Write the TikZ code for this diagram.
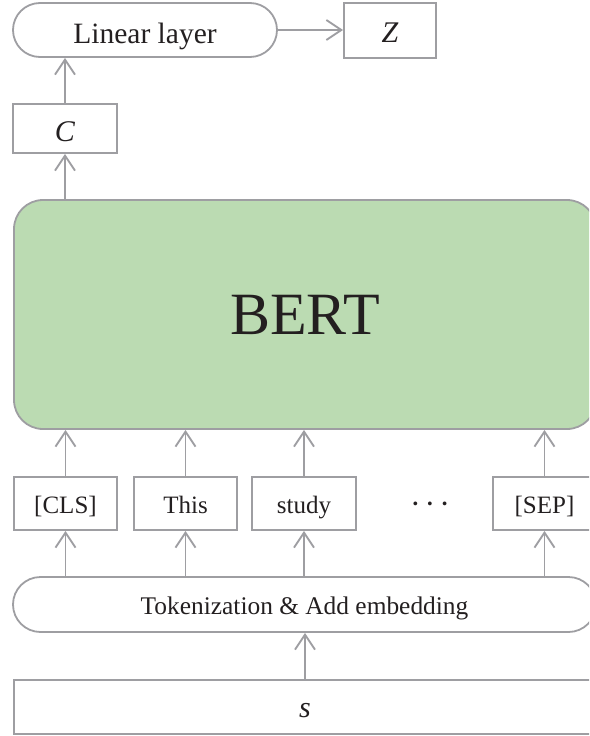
\documentclass[tikz,border=0pt]{standalone}
\usepackage{fontspec}
\setmainfont{Liberation Serif}
\usetikzlibrary{arrows.meta}
\definecolor{edgegray}{RGB}{158,158,162}
\definecolor{bertgreen}{RGB}{187,219,178}
\definecolor{inkdark}{RGB}{35,31,32}
\begin{document}
\begin{tikzpicture}[x=1pt,y=-1pt,
  box/.style={draw=edgegray,line width=1.8pt,inner sep=0pt,text=inkdark,
    text height=20pt,text depth=0pt,font=\fontsize{25}{30}\selectfont},
  sqbox/.style={box,rectangle},
  pill/.style={box,rounded corners=27pt},
  tokbox/.style={sqbox,minimum width=103pt,minimum height=53pt},
  flow/.style={draw=edgegray,line width=1.9pt,
    -{Straight Barb[length=15pt,width=20pt,line width=1.9pt]}},
]
\clip (0,0) rectangle (589,736);

% output head
\node[pill,minimum width=264pt,minimum height=54pt,text height=26pt,
  font=\fontsize{29.5}{34}\selectfont] (lin) at (145,30) {Linear layer};
\node[sqbox,minimum width=92pt,minimum height=55pt,text height=24pt,
  font=\fontsize{30}{34}\selectfont] (z) at (390,30.5) {\textit{Z}};
\node[sqbox,minimum width=104pt,minimum height=49pt,text height=26pt,
  font=\fontsize{30}{34}\selectfont] (c) at (65,128.5) {\textit{C}};

% encoder
\node[box,fill=bertgreen,rounded corners=29pt,minimum width=582pt,
  minimum height=229pt,text height=40pt,
  font=\fontsize{60}{66}\selectfont] (bert) at (305,314.5) {BERT};

% token row
\node[tokbox] (cls) at (65.5,503.5) {[CLS]};
\node[tokbox] (this) at (185.5,503.5) {This};
\node[tokbox,minimum width=104pt] (study) at (304,503.5) {study};
\node[text=inkdark,inner sep=0pt,font=\fontsize{32}{36}\selectfont] (dots) at (430,508)
  {·\hspace{4pt}·\hspace{4pt}·};
\node[tokbox] (sep) at (544.5,503.5) {[SEP]};

% input side
\node[box,rounded corners=27.5pt,minimum width=583pt,minimum height=55pt,
  text height=19pt,font=\fontsize{25.4}{30}\selectfont] (tok) at (304.5,604.5)
  {Tokenization \& Add embedding};
\node[sqbox,minimum width=582pt,minimum height=54pt,
  font=\fontsize{30}{34}\selectfont] (s) at (305,707) {\textit{s}};

% connectors
\draw[flow] (lin.east) -- (lin.east -| z.west);
\draw[flow] (c.north) -- (c.north |- lin.south);
\draw[flow] (c.south |- bert.north) -- (c.south);
\foreach \t in {cls,this,study,sep}{
  \draw[flow] (\t.north) -- (\t.north |- bert.south);
  \draw[flow] (\t.south |- tok.north) -- (\t.south);
}
\draw[flow] (s.north) -- (s.north |- tok.south);
\end{tikzpicture}
\end{document}
